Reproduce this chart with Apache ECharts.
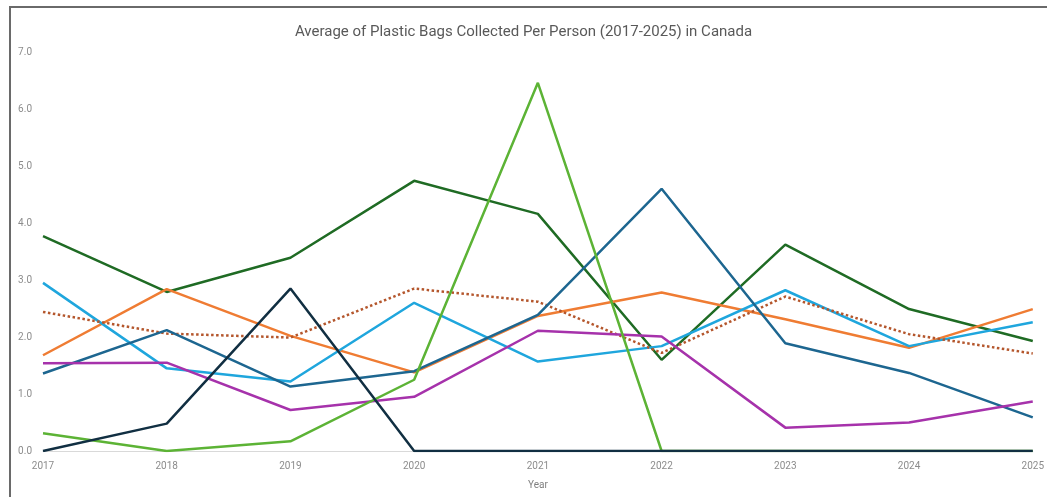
<!DOCTYPE html>
<html>
<head>
<meta charset="utf-8">
<script src="https://cdn.jsdelivr.net/npm/echarts@6/dist/echarts.min.js"></script>
<style>
  html, body { margin: 0; padding: 0; background: #ffffff; }
  #chart { width: 1047px; height: 497px; }
</style>
</head>
<body>
<div id="chart"></div>
<script>
// Year categories along the x axis
const years = ['2017', '2018', '2019', '2020', '2021', '2022', '2023', '2024', '2025'];

// Average plastic bags collected per person, one array per line
const darkGreen  = [3.77, 2.79, 3.39, 4.74, 4.16, 1.60, 3.62, 2.49, 1.93];
const orange     = [1.68, 2.84, 2.02, 1.38, 2.37, 2.78, 2.31, 1.81, 2.49];
const lightBlue  = [2.95, 1.45, 1.22, 2.60, 1.57, 1.84, 2.82, 1.84, 2.26];
const dotted     = [2.44, 2.06, 1.99, 2.85, 2.62, 1.72, 2.71, 2.05, 1.71];
const teal       = [1.36, 2.12, 1.13, 1.40, 2.39, 4.60, 1.89, 1.37, 0.59];
const purple     = [1.54, 1.55, 0.72, 0.95, 2.11, 2.01, 0.41, 0.50, 0.87];
const lightGreen = [0.31, 0.00, 0.17, 1.25, 6.46, 0.00, 0.00, 0.00, 0.00];
const navy       = [0.00, 0.48, 2.85, 0.00, 0.00, 0.00, 0.00, 0.00, 0.00];

// Y axis range and step
const yMin = 0, yMax = 7, yStep = 1;

const FONT = "'Liberation Sans Narrow', 'Roboto', 'Noto Sans', sans-serif";

function lineSeries(name, data, color, dashed) {
  return {
    name: name,
    type: 'line',
    data: data,
    symbol: 'none',
    smooth: false,
    lineStyle: { color: color, width: 2.5, type: dashed ? 'dotted' : 'solid' },
    emphasis: { disabled: true }
  };
}

const chart = echarts.init(document.getElementById('chart'), null, { renderer: 'canvas' });
chart.setOption({
  backgroundColor: '#ffffff',
  animation: false,
  title: {
    text: 'Average of Plastic Bags Collected Per Person (2017-2025) in Canada',
    left: 'center',
    top: 20,
    textStyle: { fontFamily: FONT, fontSize: 15, fontWeight: 'normal', color: '#595959' }
  },
  graphic: [{
    type: 'rect',
    shape: { x: 10, y: 7, width: 1100, height: 600 },
    style: { fill: 'none', stroke: '#6a6a6a', lineWidth: 2 },
    silent: true,
    z: 100
  }],
  grid: { left: 43, right: 12, top: 52, bottom: 46, containLabel: false },
  xAxis: {
    type: 'category',
    data: years,
    boundaryGap: false,
    name: 'Year',
    nameLocation: 'middle',
    nameGap: 29,
    nameTextStyle: { fontFamily: FONT, fontSize: 10, color: '#7f7f7f' },
    axisLine: { show: true, lineStyle: { color: '#d9d9d9', width: 1 } },
    axisTick: { show: false },
    axisLabel: { fontFamily: FONT, fontSize: 10, color: '#8c8c8c', margin: 10 },
    splitLine: { show: false }
  },
  yAxis: {
    type: 'value',
    min: yMin,
    max: yMax,
    interval: yStep,
    axisLine: { show: false },
    axisTick: { show: false },
    splitLine: { show: false },
    axisLabel: {
      fontFamily: FONT, fontSize: 10, color: '#8c8c8c', margin: 11,
      formatter: v => v.toFixed(1)
    }
  },
  series: [
    lineSeries('Dark green', darkGreen, '#1f6b24', false),
    lineSeries('Orange', orange, '#ef7c33', false),
    lineSeries('Light blue', lightBlue, '#1fa6dd', false),
    lineSeries('Average', dotted, '#b4562c', true),
    lineSeries('Teal', teal, '#1d6690', false),
    lineSeries('Purple', purple, '#a632ab', false),
    lineSeries('Light green', lightGreen, '#5cb335', false),
    lineSeries('Navy', navy, '#112f42', false)
  ]
});
</script>
</body>
</html>
